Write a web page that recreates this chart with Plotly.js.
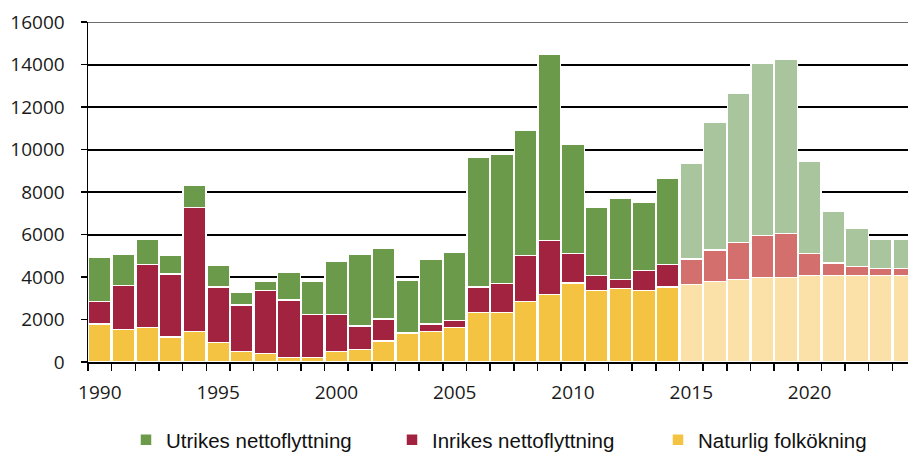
<!DOCTYPE html>
<html>
<head>
<meta charset="utf-8">
<script src="https://cdn.plot.ly/plotly-3.0.1.min.js"></script>
<style>
html,body{margin:0;padding:0;background:#fff;}
#chart{width:908px;height:454px;}
</style>
</head>
<body>
<div id="chart"></div>
<script>
// Data
var years = [1990,1991,1992,1993,1994,1995,1996,1997,1998,1999,
             2000,2001,2002,2003,2004,2005,2006,2007,2008,2009,
             2010,2011,2012,2013,2014,2015,2016,2017,2018,2019,
             2020,2021,2022,2023,2024];
var naturlig = [1800,1540,1630,1180,1440,925,500,390,220,220,
                500,580,1000,1330,1430,1615,2320,2320,2855,3185,
                3720,3370,3450,3370,3530,3655,3800,3890,3985,3985,
                4080,4080,4080,4080,4080];
var inrikes = [1050,2070,2950,2950,5840,2600,2180,2965,2700,2010,
               1725,1115,1020,60,360,345,1210,1365,2150,2540,
               1380,690,425,940,1070,1190,1470,1725,1975,2070,
               1020,580,410,310,310];
var utrikes = [2060,1475,1210,880,1040,1020,580,425,1285,1550,
               2495,3390,3310,2450,3030,3215,6085,6100,5915,8770,
               5130,3200,3810,3215,4060,4500,5990,7045,8095,8170,
               4345,2430,1820,1410,1410];
var firstForecastYear = 2015;
var tickYears = [1990,1995,2000,2005,2010,2015,2020];
var yTicks = [0,2000,4000,6000,8000,10000,12000,14000,16000];

// Styles
var dark = {nat:'#F5C342', inr:'#A2233F', utr:'#6A9A4A'};
var light = {nat:'#FBE0A8', inr:'#D3706E', utr:'#A8C59E'};
function cols(key){ return years.map(function(y){ return y >= firstForecastYear ? light[key] : dark[key]; }); }

var lineStyle = {color:'#ffffff', width:1.5};
var traces = [
  {type:'bar', x:years, y:naturlig, name:'Naturlig folkökning', legend:'legend3',
   marker:{color:cols('nat'), line:lineStyle}, hoverinfo:'skip'},
  {type:'bar', x:years, y:inrikes, name:'Inrikes nettoflyttning', legend:'legend2',
   marker:{color:cols('inr'), line:lineStyle}, hoverinfo:'skip'},
  {type:'bar', x:years, y:utrikes, name:'Utrikes nettoflyttning', legend:'legend',
   marker:{color:cols('utr'), line:lineStyle}, hoverinfo:'skip'}
];

var legendFont = {family:'"Liberation Sans", Arial, sans-serif', size:20.5, color:'#111'};
function legendAt(xpx){
  return {orientation:'h', xref:'container', yref:'container',
          x:xpx/908, xanchor:'left', y:1-440/454, yanchor:'middle',
          itemwidth:30, font:legendFont, bgcolor:'rgba(0,0,0,0)', borderwidth:0};
}

var layout = {
  width:908, height:454,
  margin:{l:88, r:0, t:22, b:92},
  paper_bgcolor:'#fff', plot_bgcolor:'#fff',
  barmode:'stack', bargap:0.04,
  font:{family:'"Open Sans", sans-serif', color:'#1a1a1a', size:19},
  xaxis:{
    type:'linear', range:[1989.5, 2024.16], fixedrange:true,
    tickvals:tickYears, ticktext:tickYears.map(String),
    ticks:'', showgrid:false, zeroline:false,
    showline:true, linecolor:'#000', linewidth:1.5,
    tickfont:{family:'"Open Sans", sans-serif', size:19, color:'#1a1a1a'},
    ticklabelstandoff:13,
    minor:{tick0:1989.5, dtick:1, ticks:'outside', ticklen:7, tickwidth:1.5, tickcolor:'#000', showgrid:false}
  },
  yaxis:{
    range:[0,16000], fixedrange:true,
    tickvals:yTicks, ticktext:yTicks.map(String),
    ticks:'outside', ticklen:6, tickwidth:1.5, tickcolor:'#000',
    showgrid:true, gridcolor:'#000', gridwidth:2,
    zeroline:false, showline:true, linecolor:'#000', linewidth:1.5,
    tickfont:{family:'"Open Sans", sans-serif', size:19, color:'#1a1a1a'},
    ticklabelstandoff:12
  },
  shapes:[{type:'line', xref:'paper', x0:0, x1:1, yref:'y', y0:16000, y1:16000,
           line:{color:'#6e6e6e', width:2}, layer:'above'}],
  showlegend:true,
  legend:legendAt(126),
  legend2:legendAt(392),
  legend3:legendAt(658)
};

Plotly.newPlot('chart', traces, layout, {displayModeBar:false, staticPlot:true});
</script>
</body>
</html>
